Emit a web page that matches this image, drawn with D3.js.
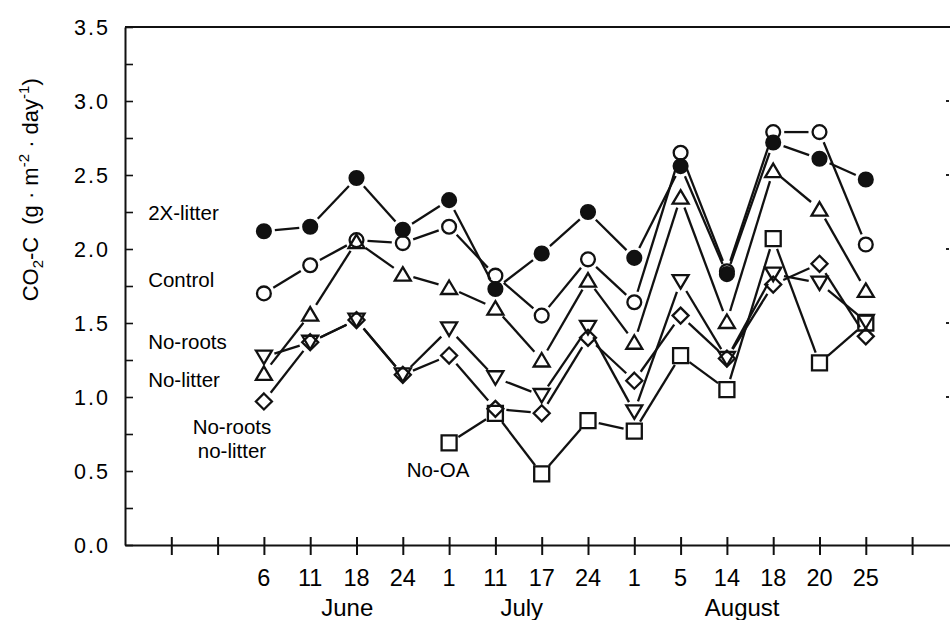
<!DOCTYPE html>
<html lang="en">
<head>
<meta charset="utf-8">
<title>CO2-C efflux</title>
<script src="https://d3js.org/d3.v7.min.js"></script>
<style>
  body { margin: 0; background: #fff; }
  svg { display: block; font-family: "Liberation Sans", Arial, Helvetica, sans-serif; }
</style>
</head>
<body>
<script>
// sampling days (x slots 3..16), blank ticks at 1, 2 and 17
const dayLabels = ["6", "11", "18", "24", "1", "11", "17", "24", "1", "5", "14", "18", "20", "25"];
const daySlots = [3, 4, 5, 6, 7, 8, 9, 10, 11, 12, 13, 14, 15, 16];
const months = ["June", "July", "August"];
const monthSlots = [4.8, 8.57, 13.33];
const yTicks = [0, 0.5, 1, 1.5, 2, 2.5, 3, 3.5];

const twoXLitter      = [2.12, 2.15, 2.48, 2.13, 2.33, 1.73, 1.97, 2.25, 1.94, 2.56, 1.83, 2.72, 2.61, 2.47];
const control         = [1.70, 1.89, 2.06, 2.04, 2.15, 1.82, 1.55, 1.93, 1.64, 2.65, 1.85, 2.79, 2.79, 2.03];
const noRoots         = [1.27, 1.37, 1.52, 1.15, 1.46, 1.13, 1.01, 1.47, 0.90, 1.78, 1.26, 1.83, 1.77, 1.51];
const noLitter        = [1.16, 1.56, 2.05, 1.83, 1.74, 1.60, 1.25, 1.79, 1.37, 2.35, 1.51, 2.53, 2.27, 1.72];
const noRootsNoLitter = [0.97, 1.37, 1.52, 1.15, 1.28, 0.92, 0.89, 1.40, 1.11, 1.55, 1.26, 1.76, 1.90, 1.41];
const noOA            = [null, null, null, null, 0.69, 0.89, 0.48, 0.84, 0.77, 1.28, 1.05, 2.07, 1.23, 1.50];

const series = [
  {name: "No-OA", values: noOA, shape: "square"},
  {name: "No-roots no-litter", values: noRootsNoLitter, shape: "diamond"},
  {name: "No-litter", values: noLitter, shape: "up"},
  {name: "No-roots", values: noRoots, shape: "down"},
  {name: "Control", values: control, shape: "circle"},
  {name: "2X-litter", values: twoXLitter, shape: "dot"}
];

// in-plot labels: [text lines, x slot, y value, anchor]
const notes = [
  [["2X-litter"], 0.5, 2.24, "start"],
  [["Control"], 0.5, 1.79, "start"],
  [["No-roots"], 0.5, 1.37, "start"],
  [["No-litter"], 0.5, 1.115, "start"],
  [["No-roots", "no-litter"], 2.31, 0.80, "middle"],
  [["No-OA"], 6.76, 0.51, "middle"]
];

const w = 950, h = 620;
const pLeft = 125, pRight = 950, pTop = 27, pBottom = 545;

const svg = d3.select("body").append("svg").attr("width", w).attr("height", h);

const x = d3.scaleLinear().domain([0, (pRight - pLeft) / 46.3]).range([pLeft, pRight]);
const y = d3.scaleLinear().domain([0, 3.5]).range([pBottom, pTop]);

// top frame line
svg.append("line").attr("x1", pLeft).attr("x2", pRight).attr("y1", pTop).attr("y2", pTop)
  .attr("stroke", "#111").attr("stroke-width", 2);

// y axis, inward ticks every 0.25
const yAxis = d3.axisRight(y).tickValues(d3.range(0, 3.51, 0.25)).tickSize(8).tickSizeOuter(0).tickFormat("");
const gy = svg.append("g").attr("transform", `translate(${pLeft},0)`).call(yAxis);
gy.select(".domain").attr("stroke", "#111").attr("stroke-width", 2);
gy.selectAll(".tick line").attr("stroke", "#111").attr("stroke-width", 1.6);

svg.selectAll(".ylab").data(yTicks).enter().append("text")
  .attr("class", "ylab")
  .attr("x", 110).attr("y", d => y(d) + 7.5)
  .attr("text-anchor", "end")
  .attr("font-size", 21.5).attr("letter-spacing", 2)
  .text(d => d.toFixed(1));

// tiny marks at the cut right edge
svg.selectAll(".rtick").data([1, 1.5, 2, 2.5, 3]).enter().append("line")
  .attr("x1", 946).attr("x2", 949).attr("y1", d => y(d)).attr("y2", d => y(d))
  .attr("stroke", "#222").attr("stroke-width", 2);

// x axis, ticks crossing the line
const xAxis = d3.axisBottom(x).tickValues(d3.range(1, 18)).tickSizeInner(10).tickSizeOuter(0).tickFormat("");
const gx = svg.append("g").attr("transform", `translate(0,${pBottom})`).call(xAxis);
gx.select(".domain").attr("stroke", "#111").attr("stroke-width", 2);
gx.selectAll(".tick line").attr("y1", -8).attr("stroke", "#111").attr("stroke-width", 2);

svg.selectAll(".xlab").data(dayLabels).enter().append("text")
  .attr("class", "xlab")
  .attr("x", (d, i) => x(daySlots[i])).attr("y", 586)
  .attr("text-anchor", "middle").attr("font-size", 23.5)
  .text(d => d);

svg.selectAll(".month").data(months).enter().append("text")
  .attr("class", "month")
  .attr("x", (d, i) => x(monthSlots[i])).attr("y", 616)
  .attr("text-anchor", "middle").attr("font-size", 24)
  .text(d => d);

// y title
const yt = svg.append("text")
  .attr("transform", `translate(38,${y(2.4)}) rotate(-90)`)
  .attr("text-anchor", "middle").attr("font-size", 22);
yt.append("tspan").text("CO");
yt.append("tspan").attr("font-size", 15).attr("dy", 5).text("2");
yt.append("tspan").attr("dy", -5).text("-C");
yt.append("tspan").attr("dx", 12).text("(g \u00b7 m");
yt.append("tspan").attr("font-size", 15).attr("dy", -9).text("-2");
yt.append("tspan").attr("dy", 9).text(" \u00b7 day");
yt.append("tspan").attr("font-size", 15).attr("dy", -9).text("-1");
yt.append("tspan").attr("dy", 9).text(")");

// series: segments stop short of markers
const gap = 11;
series.forEach(s => {
  const pts = s.values.map((v, i) => v == null ? null : [x(daySlots[i]), y(v)]).filter(p => p);
  const segs = d3.pairs(pts).map(([a, b]) => {
    const dx = b[0] - a[0], dy = b[1] - a[1], len = Math.hypot(dx, dy);
    const ux = dx / len, uy = dy / len;
    return [a[0] + ux * gap, a[1] + uy * gap, b[0] - ux * gap, b[1] - uy * gap];
  });
  svg.append("g").selectAll("line").data(segs).enter().append("line")
    .attr("x1", d => d[0]).attr("y1", d => d[1]).attr("x2", d => d[2]).attr("y2", d => d[3])
    .attr("stroke", "#111").attr("stroke-width", 2.3);
});

function markerPath(shape) {
  switch (shape) {
    case "square": return "M-7.5,-7.5H7.5V7.5H-7.5Z";
    case "diamond": return "M0,-8L8,0L0,8L-8,0Z";
    case "up": return "M0,-7L8,6.5H-8Z";
    case "down": return "M0,7L8,-6.5H-8Z";
    default: return d3.symbol(d3.symbolCircle, 150)();
  }
}

series.forEach(s => {
  const pts = s.values.map((v, i) => v == null ? null : [x(daySlots[i]), y(v)]).filter(p => p);
  svg.append("g").selectAll("path").data(pts).enter().append("path")
    .attr("transform", d => `translate(${d[0]},${d[1]})`)
    .attr("d", markerPath(s.shape))
    .attr("fill", s.shape === "dot" ? "#111" : "none")
    .attr("stroke", "#111").attr("stroke-width", 2.3);
});

// in-plot series names
notes.forEach(([lines, sx, vy, anchor]) => {
  lines.forEach((t, k) => {
    svg.append("text")
      .attr("x", x(sx)).attr("y", y(vy) + 7 + k * 24)
      .attr("text-anchor", anchor).attr("font-size", 20.5)
      .text(t);
  });
});
</script>
</body>
</html>
